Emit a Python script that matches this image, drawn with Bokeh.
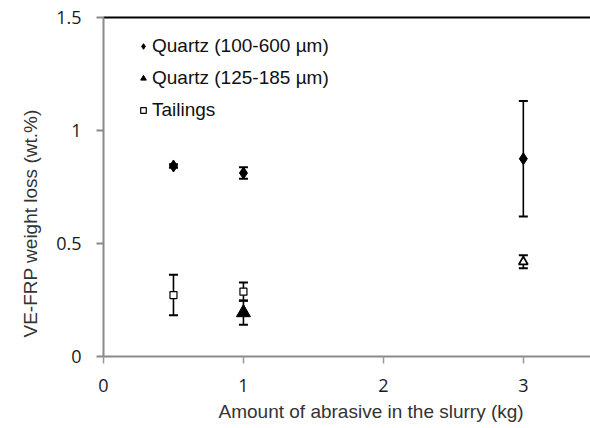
from bokeh.plotting import figure
from bokeh.models import (ColumnDataSource, Whisker, TeeHead, LinearAxis, FixedTicker,
                          NumeralTickFormatter, Legend, LegendItem, Range1d, Title)
from bokeh.embed import file_html
from bokeh.resources import INLINE

# ---- data ----
x_q_coarse = [0.5, 1.0, 3.0]
y_q_coarse = [0.843, 0.812, 0.875]
e_q_coarse = [0.008, 0.025, 0.255]

x_q_fine = [1.0]
y_q_fine = [0.194]
e_q_fine = [0.054]

x_q_fine_b = [3.0]
y_q_fine_b = [0.419]
e_q_fine_b = [0.029]

x_tail = [0.5, 1.0]
y_tail = [0.272, 0.287]
e_tail = [0.09, 0.04]

x_ticks = [0, 1, 2, 3]
y_ticks = [0, 0.5, 1, 1.5]

labels = ["Quartz (100-600 \u00b5m)", "Quartz (125-185 \u00b5m)", "Tailings"]
x_title = "Amount of abrasive in the slurry (kg)"
y_title = "VE-FRP weight loss (wt.%)"

def src(xs, ys, es):
    return ColumnDataSource(dict(x=xs, y=ys,
                                 upper=[a + b for a, b in zip(ys, es)],
                                 lower=[a - b for a, b in zip(ys, es)]))

s1 = src(x_q_coarse, y_q_coarse, e_q_coarse)
s2 = src(x_q_fine, y_q_fine, e_q_fine)
s2b = src(x_q_fine_b, y_q_fine_b, e_q_fine_b)
s3 = src(x_tail, y_tail, e_tail)

p = figure(width=590, height=425, output_backend="svg", toolbar_location=None,
           x_range=Range1d(0, 3.48), y_range=Range1d(0, 1.5),
           min_border_left=103, min_border_right=0, min_border_top=17, min_border_bottom=10)
p.outline_line_color = None
p.xgrid.visible = False
p.ygrid.visible = False
p.background_fill_color = "white"

tick_font = "Open Sans"
lab_font = "Liberation Sans"

for ax in (p.xaxis[0], p.yaxis[0]):
    ax.axis_line_color = "#8a8a8a"
    ax.axis_line_width = 2
    ax.major_tick_line_color = "#8a8a8a"
    ax.major_tick_line_width = 2
    ax.major_tick_out = 7
    ax.major_tick_in = 0
    ax.minor_tick_out = 0
    ax.minor_tick_in = 0
    ax.major_label_text_font = tick_font
    ax.major_label_text_font_size = "18px"
    ax.major_label_text_color = "#1a1a1a"

p.xaxis[0].ticker = FixedTicker(ticks=x_ticks)
p.yaxis[0].ticker = FixedTicker(ticks=y_ticks)
p.xaxis[0].formatter = NumeralTickFormatter(format="0.[0]")
p.yaxis[0].formatter = NumeralTickFormatter(format="0.[0]")
p.xaxis[0].major_label_standoff = 15
p.yaxis[0].major_label_standoff = 15
p.xaxis[0].major_tick_line_width = 1.5
p.xaxis[0].major_tick_line_color = "#999999"

top = LinearAxis(ticker=FixedTicker(ticks=[]), axis_line_color="black", axis_line_width=2,
                 major_tick_out=0, major_tick_in=0, minor_tick_out=0, minor_tick_in=0,
                 major_label_text_font_size="0px")
p.add_layout(top, "above")

# axis titles as titles, offset along the axis as in the original
p.add_layout(Title(text=x_title, align="left", offset=115, text_font=lab_font,
                   text_font_size="19px", text_font_style="normal",
                   text_color="#333333", standoff=8), "below")
p.add_layout(Title(text=y_title, align="left", offset=19, text_font=lab_font,
                   text_font_size="19px", text_font_style="normal",
                   text_color="#333333", standoff=25), "left")

# error bars
for s, cap in ((s1, 9), (s2, 9), (s2b, 9), (s3, 9)):
    w = Whisker(source=s, base="x", upper="upper", lower="lower", dimension="height",
                line_color="black", line_width=1.6, level="underlay",
                upper_head=TeeHead(size=cap, line_color="black", line_width=2),
                lower_head=TeeHead(size=cap, line_color="black", line_width=2))
    p.add_layout(w)

r1 = p.scatter("x", "y", source=s1, marker="diamond", size=12,
               fill_color="black", line_color="black")
r2 = p.scatter("x", "y", source=s2, marker="triangle", size=14,
               fill_color="black", line_color="black")
r2b = p.scatter("x", "y", source=s2b, marker="triangle", size=9,
                fill_color="white", line_color="black", line_width=1.8)
r3 = p.scatter("x", "y", source=s3, marker="square", size=7,
               fill_color="white", line_color="black", line_width=1.2)

legend = Legend(items=[LegendItem(label=labels[0], renderers=[r1]),
                       LegendItem(label=labels[1], renderers=[r2]),
                       LegendItem(label=labels[2], renderers=[r3])],
                location=(33, 235), margin=0, padding=4, spacing=10,
                glyph_width=14, glyph_height=20, label_height=20, label_standoff=2,
                border_line_color=None, background_fill_alpha=0,
                label_text_font=lab_font, label_text_font_size="19px",
                label_text_color="#111111")
p.add_layout(legend)

open("out.html", "w").write(file_html(p, INLINE))
